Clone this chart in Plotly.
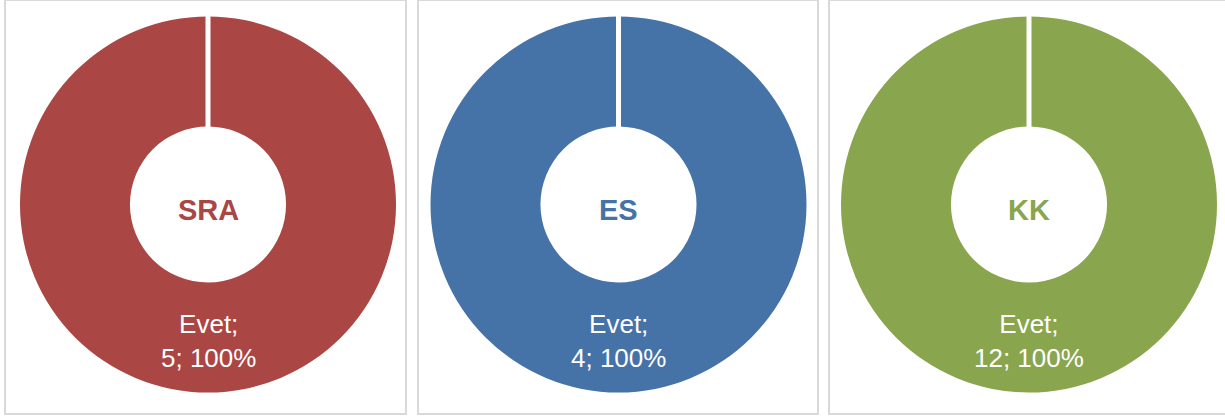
import plotly.graph_objects as go

W, H = 1225, 419

# data
groups = ["SRA", "ES", "KK"]
answer_labels = ["Evet"]
answer_counts = {"SRA": [5], "ES": [4], "KK": [12]}
group_colors = {"SRA": "#AA4643", "ES": "#4572A7", "KK": "#89A54E"}

# layout in pixels
centers = [208, 618.5, 1029]
center_y = 204.5
radius = 188
hole = 0.415
panels = [(5, 406), (418, 818), (829, 1232)]
panel_top, panel_bottom = 0, 414
FONT = "Arial, Liberation Sans, sans-serif"


def px(x):
    return x / W


def py(y):
    return 1 - y / H


fig = go.Figure()

for g, cx in zip(groups, centers):
    vals = answer_counts[g]
    fig.add_trace(go.Pie(
        labels=answer_labels,
        values=vals,
        hole=hole,
        sort=False,
        direction="clockwise",
        rotation=0,
        marker=dict(colors=[group_colors[g]], line=dict(width=0)),
        textinfo="none",
        domain=dict(x=[px(cx - radius), px(cx + radius)],
                    y=[py(center_y + radius), py(center_y - radius)]),
        hoverinfo="skip",
        showlegend=False,
    ))
    # data label, Excel style, lower part of the ring
    total = sum(vals)
    label = f"{answer_labels[0]};<br>{vals[0]}; {round(100 * vals[0] / total)}%"
    fig.add_annotation(
        x=px(cx), y=py(center_y + 136), xref="paper", yref="paper",
        xanchor="center", yanchor="middle",
        text=label, showarrow=False,
        font=dict(size=26, color="white", family=FONT),
    )
    fig.add_annotation(
        x=px(cx), y=py(center_y + 5), xref="paper", yref="paper",
        xanchor="center", yanchor="middle",
        text=f"<b>{g}</b>", showarrow=False,
        font=dict(size=29, color=group_colors[g], family=FONT),
    )
    # white gap where the ring starts
    fig.add_shape(type="line", xref="paper", yref="paper",
                  x0=px(cx), x1=px(cx),
                  y0=py(center_y - radius - 1), y1=py(center_y - radius * hole + 1),
                  line=dict(color="white", width=5))

for x0, x1 in panels:
    fig.add_shape(type="rect", xref="paper", yref="paper",
                  x0=px(x0), x1=px(x1), y0=py(panel_bottom), y1=py(panel_top),
                  line=dict(color="#D9D9D9", width=2), layer="below")

fig.update_layout(
    width=W, height=H,
    margin=dict(l=0, r=0, t=0, b=0),
    paper_bgcolor="white",
    plot_bgcolor="white",
)

fig.write_html("out.html", config={"displayModeBar": False},
               post_script="document.body.style.margin='0';")
